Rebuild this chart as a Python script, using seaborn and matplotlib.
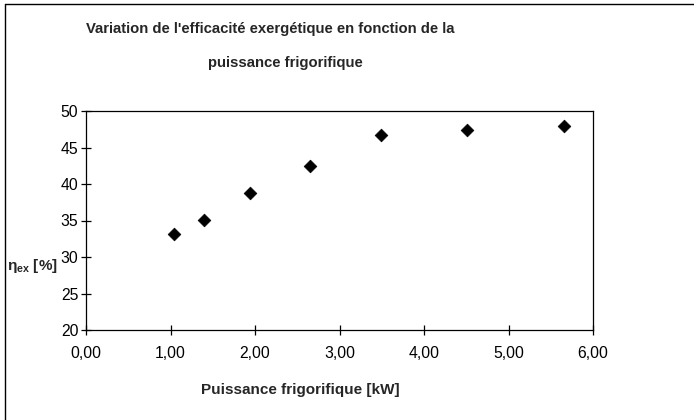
import matplotlib
matplotlib.use("Agg")
import matplotlib.pyplot as plt
import seaborn as sns
import pandas as pd
from matplotlib.lines import Line2D
from matplotlib.ticker import FuncFormatter

# Puissance frigorifique [kW] et efficacité exergétique [%]
puissance = [1.04, 1.40, 1.94, 2.65, 3.49, 4.51, 5.66]
efficacite = [33.1, 35.1, 38.8, 42.4, 46.7, 47.4, 47.9]

x_ticks = [0, 1, 2, 3, 4, 5, 6]
y_ticks = [20, 25, 30, 35, 40, 45, 50]

sns.set_theme(style="white")
plt.rcParams["font.family"] = ["Liberation Sans", "DejaVu Sans"]
plt.rcParams["mathtext.default"] = "regular"

df = pd.DataFrame({"P": puissance, "eta": efficacite})

fig = plt.figure(figsize=(6.94, 4.20), dpi=100)
ax = fig.add_axes([86 / 694, 1 - 330 / 420, (593 - 86) / 694, (330 - 111) / 420])

sns.scatterplot(data=df, x="P", y="eta", ax=ax, marker="D", s=42,
                color="black", edgecolor="black", linewidth=0.5, legend=False)

ax.set_xlim(0, 6)
ax.set_ylim(20, 50)
ax.set_xticks(x_ticks)
ax.set_yticks(y_ticks)
ax.xaxis.set_major_formatter(FuncFormatter(lambda v, p: f"{v:.2f}".replace(".", ",")))
ax.tick_params(axis="both", direction="inout", length=7, width=0.9, color="black",
               labelsize=11.3, labelcolor="black", bottom=True, left=True)
ax.tick_params(axis="x", pad=8)
ax.tick_params(axis="y", pad=2)
for s in ax.spines.values():
    s.set_visible(True)
    s.set_color("black")
    s.set_linewidth(0.9)
ax.set_xlabel("")
ax.set_ylabel("")

# Titre sur deux lignes
fig.text(86 / 694, 1 - 29 / 420, "Variation de l'efficacité exergétique en fonction de la",
         ha="left", va="center", fontsize=10.7, fontweight="bold")
fig.text(208 / 694, 1 - 63 / 420, "puissance frigorifique",
         ha="left", va="center", fontsize=10.7, fontweight="bold")

# Titres des axes
fig.text(300 / 694, 1 - 390 / 420, "Puissance frigorifique [kW]",
         ha="center", va="center", fontsize=11, fontweight="bold")
fig.text(7 / 694, 1 - 266 / 420, r"η$_{ex}$ [%]",
         ha="left", va="center", fontsize=11, fontweight="bold")

# Cadre extérieur
fig.add_artist(Line2D([5 / 694, 5 / 694], [0, 1 - 4 / 420], transform=fig.transFigure,
                      color="black", linewidth=1))
fig.add_artist(Line2D([5 / 694, 1], [1 - 4 / 420, 1 - 4 / 420], transform=fig.transFigure,
                      color="black", linewidth=1))

fig.savefig("out.png", dpi=100)
